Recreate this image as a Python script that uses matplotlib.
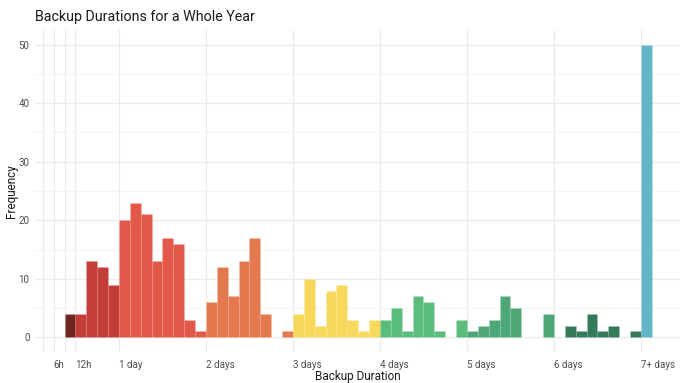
import matplotlib
matplotlib.use("Agg")
import matplotlib.pyplot as plt
import numpy as np

plt.rcParams['font.family'] = ['Roboto', 'DejaVu Sans']

# durations in days; one bin = 3 hours (1/8 day)
bin_days = 0.125

# counts per 3h bin, grouped by duration class (first bin start in days)
group_names = ["< 12h", "12h", "1 day", "2 days", "3 days", "4 days", "5 days", "6 days", "7+ days"]
group_start = [0.375, 0.5, 1, 2, 3, 4, 5, 6, 7]
group_counts = [
    [4],
    [4, 13, 12, 9],
    [20, 23, 21, 13, 17, 16, 3, 1],
    [6, 12, 7, 13, 17, 4, 0, 1],
    [4, 10, 2, 8, 9, 3, 1, 3],
    [3, 5, 1, 7, 6, 1, 0, 3],
    [1, 2, 3, 7, 5, 0, 0, 4],
    [0, 2, 1, 4, 1, 2, 0, 1],
    [50],
]
group_colors = ["#6e2522", "#c43d36", "#e2594a", "#e4794f", "#f8d85a",
                "#5abd7b", "#4ea776", "#357a5b", "#62b6ca"]

tick_pos = [0.25, 0.5, 1, 2, 3, 4, 5, 6, 7]
tick_labels = ["6h", "12h", "1 day", "2 days", "3 days", "4 days", "5 days", "6 days", "7+ days"]
minor_x = [0.125, 0.375]

fig = plt.figure(figsize=(6.94, 3.83), dpi=100)
ax = fig.add_axes([0.0504, 0.081, 0.9296, 0.8407])

for start, counts, col in zip(group_start, group_counts, group_colors):
    x = start + np.arange(len(counts)) * bin_days
    h = np.array(counts)
    keep = h > 0
    ax.bar(x[keep], h[keep], width=bin_days, align='edge', color=col,
           edgecolor=(1, 1, 1, 0.07), linewidth=0.5, zorder=3)

ax.set_xlim(0.035, 7.45)
ax.set_ylim(-2.5, 52.5)

# grid like ggplot minimal
for v in range(0, 51, 10):
    ax.axhline(v, color="#ebebeb", lw=0.9, zorder=0)
for v in range(5, 50, 10):
    ax.axhline(v, color="#f3f3f3", lw=0.6, zorder=0)
for v in tick_pos + minor_x:
    ax.axvline(v, color="#ebebeb", lw=0.9, zorder=0)

ax.set_xticks(tick_pos)
ax.set_xticklabels(tick_labels, ha='left')
ax.set_yticks(range(0, 51, 10))
ax.tick_params(length=0, labelsize=7, colors="#4d4d4d", pad=4)
ax.tick_params(axis='x', pad=6)
for s in ax.spines.values():
    s.set_visible(False)

fig.text(0.516, 0.018, "Backup Duration", fontsize=8.5, color="#1a1a1a",
         ha='center', va='center')
fig.text(0.016, 0.50, "Frequency", fontsize=8.5, color="#1a1a1a",
         ha='center', va='center', rotation=90)
fig.text(0.0504, 0.955, "Backup Durations for a Whole Year", fontsize=10.3,
         color="#1a1a1a", va='center', ha='left')

fig.savefig("out.png", dpi=100)
